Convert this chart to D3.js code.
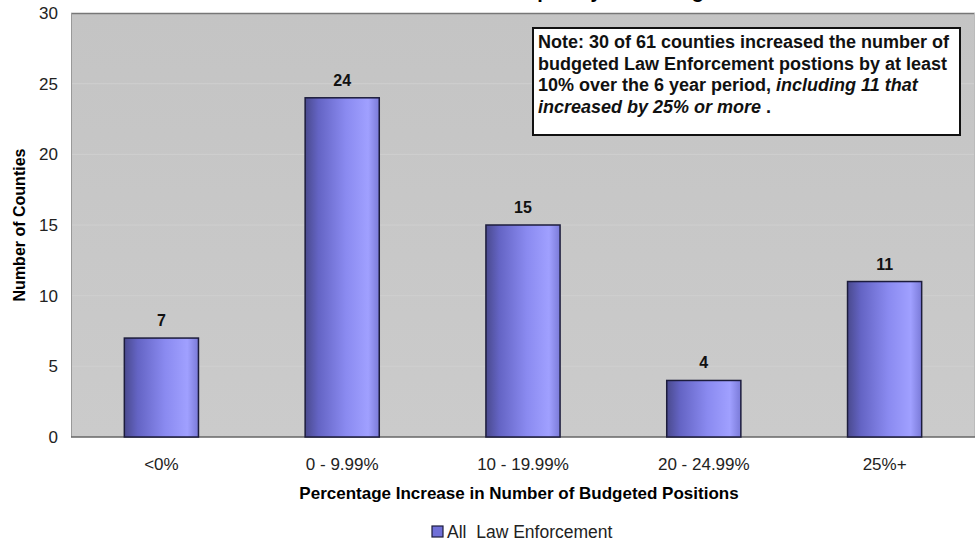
<!DOCTYPE html>
<html>
<head>
<meta charset="utf-8">
<script src="https://cdn.jsdelivr.net/npm/d3@7"></script>
<style>
  html, body { margin: 0; padding: 0; background: #fff; }
  svg { display: block; font-family: Arial, "Liberation Sans", sans-serif; }
</style>
</head>
<body>
<svg id="chart" width="978" height="544"></svg>
<script>
// Counties grouped by percentage increase in budgeted law enforcement positions
const categories = ["<0%", "0 - 9.99%", "10 - 19.99%", "20 - 24.99%", "25%+"];
const counties = [7, 24, 15, 4, 11];
const yTicks = [0, 5, 10, 15, 20, 25, 30];
const seriesName = "All  Law Enforcement";
const noteLines = [
  [{t: "Note: 30 of 61 counties increased the number of", i: false}],
  [{t: "budgeted Law Enforcement postions by at least", i: false}],
  [{t: "10% over the 6 year period, ", i: false}, {t: "including 11 that", i: true}],
  [{t: "increased by 25% or more", i: true}, {t: " .", i: false}]
];

const svg = d3.select("#chart");
const m = {left: 71, right: 3, top: 13, bottom: 107};
const W = 978, H = 544;
const pw = W - m.left - m.right, ph = H - m.top - m.bottom;

const x = d3.scaleBand().domain(categories).range([m.left, m.left + pw]).paddingInner(0.59).paddingOuter(0.295);
const y = d3.scaleLinear().domain([0, 30]).range([m.top + ph, m.top]);

const defs = svg.append("defs");
const bg = defs.append("linearGradient").attr("id", "plotbg").attr("x1", 0).attr("y1", 0).attr("x2", 0).attr("y2", 1);
bg.append("stop").attr("offset", "0%").attr("stop-color", "#c4c4c4");
bg.append("stop").attr("offset", "100%").attr("stop-color", "#cbcbcb");

const bar = defs.append("linearGradient").attr("id", "bargrad").attr("x1", 0).attr("y1", 0).attr("x2", 1).attr("y2", 0);
[["0%", "#4a4a8e"], ["18%", "#6464c4"], ["55%", "#8a8af0"], ["85%", "#a0a0ff"], ["100%", "#7a7ad8"]]
  .forEach(([o, c]) => bar.append("stop").attr("offset", o).attr("stop-color", c));

// Chart title, sitting mostly above the top edge of the page
svg.append("text")
  .attr("x", 600).attr("y", -2)
  .attr("text-anchor", "middle")
  .attr("font-size", 20).attr("font-weight", "bold")
  .text("Counties Grouped by Percentage Increase");

// plot area
svg.append("rect")
  .attr("x", m.left).attr("y", m.top).attr("width", pw).attr("height", ph)
  .attr("fill", "url(#plotbg)");

// gridlines
svg.append("g").selectAll("line").data(yTicks.filter(d => d > 0 && d < 30)).join("line")
  .attr("x1", m.left).attr("x2", m.left + pw)
  .attr("y1", d => y(d)).attr("y2", d => y(d))
  .attr("stroke", "#cfcfcf").attr("stroke-width", 1);

svg.append("line")
  .attr("x1", m.left).attr("x2", m.left + pw).attr("y1", m.top + 0.5).attr("y2", m.top + 0.5)
  .attr("stroke", "#777").attr("stroke-width", 1.5);
svg.append("line")
  .attr("x1", m.left + 0.5).attr("x2", m.left + 0.5).attr("y1", m.top).attr("y2", m.top + ph)
  .attr("stroke", "#999").attr("stroke-width", 1);
svg.append("line")
  .attr("x1", m.left + pw - 0.5).attr("x2", m.left + pw - 0.5).attr("y1", m.top).attr("y2", m.top + ph)
  .attr("stroke", "#bbb").attr("stroke-width", 1);
svg.append("line")
  .attr("x1", m.left).attr("x2", m.left + pw).attr("y1", m.top + ph).attr("y2", m.top + ph)
  .attr("stroke", "#666").attr("stroke-width", 1.5);

// bars
const data = categories.map((c, i) => ({c, v: counties[i]}));
svg.append("g").selectAll("rect").data(data).join("rect")
  .attr("x", d => x(d.c)).attr("y", d => y(d.v))
  .attr("width", x.bandwidth()).attr("height", d => y(0) - y(d.v))
  .attr("fill", "url(#bargrad)")
  .attr("stroke", "#1c1c3c").attr("stroke-width", 1.5);

// value labels
svg.append("g").selectAll("text").data(data).join("text")
  .attr("x", d => x(d.c) + x.bandwidth() / 2).attr("y", d => y(d.v) - 12)
  .attr("text-anchor", "middle").attr("font-size", 16).attr("font-weight", "bold")
  .attr("fill", "#111").text(d => d.v);

// y axis
const yAxis = d3.axisLeft(y).tickValues(yTicks).tickSize(0).tickPadding(13);
const gy = svg.append("g").attr("transform", `translate(${m.left},0)`).call(yAxis);
gy.select(".domain").remove();
gy.selectAll("text").attr("font-size", 17).attr("fill", "#222").attr("font-family", "Arial, 'Liberation Sans', sans-serif");

// x axis
const xAxis = d3.axisBottom(x).tickSize(0).tickPadding(21);
const gx = svg.append("g").attr("transform", `translate(0,${m.top + ph})`).call(xAxis);
gx.select(".domain").remove();
gx.selectAll("text").attr("font-size", 17).attr("fill", "#222").attr("font-family", "Arial, 'Liberation Sans', sans-serif");

// axis titles
svg.append("text")
  .attr("x", m.left + pw / 2 - 4).attr("y", 499)
  .attr("text-anchor", "middle").attr("font-size", 17).attr("font-weight", "bold")
  .text("Percentage Increase in Number of Budgeted Positions");
svg.append("text")
  .attr("transform", `translate(25,${m.top + ph / 2}) rotate(-90)`)
  .attr("text-anchor", "middle").attr("font-size", 16).attr("font-weight", "bold")
  .text("Number of Counties");

// legend
const lg = svg.append("g").attr("transform", "translate(432,526)");
lg.append("rect").attr("x", 0).attr("y", 0).attr("width", 11).attr("height", 11)
  .attr("fill", "#7070d8").attr("stroke", "#1c1c3c").attr("stroke-width", 1.2);
lg.append("text").attr("x", 15).attr("y", 12).attr("font-size", 17.5).attr("fill", "#222")
  .style("white-space", "pre").text(seriesName);

// note box
const nb = svg.append("g");
nb.append("rect").attr("x", 533).attr("y", 28).attr("width", 427).attr("height", 107)
  .attr("fill", "#fff").attr("stroke", "#111").attr("stroke-width", 2);
noteLines.forEach((line, i) => {
  const t = nb.append("text").attr("x", 538).attr("y", 48 + i * 21.7)
    .attr("font-size", 18).attr("font-weight", "bold").attr("fill", "#111");
  line.forEach(seg => t.append("tspan").attr("font-style", seg.i ? "italic" : "normal").text(seg.t));
});
</script>
</body>
</html>
